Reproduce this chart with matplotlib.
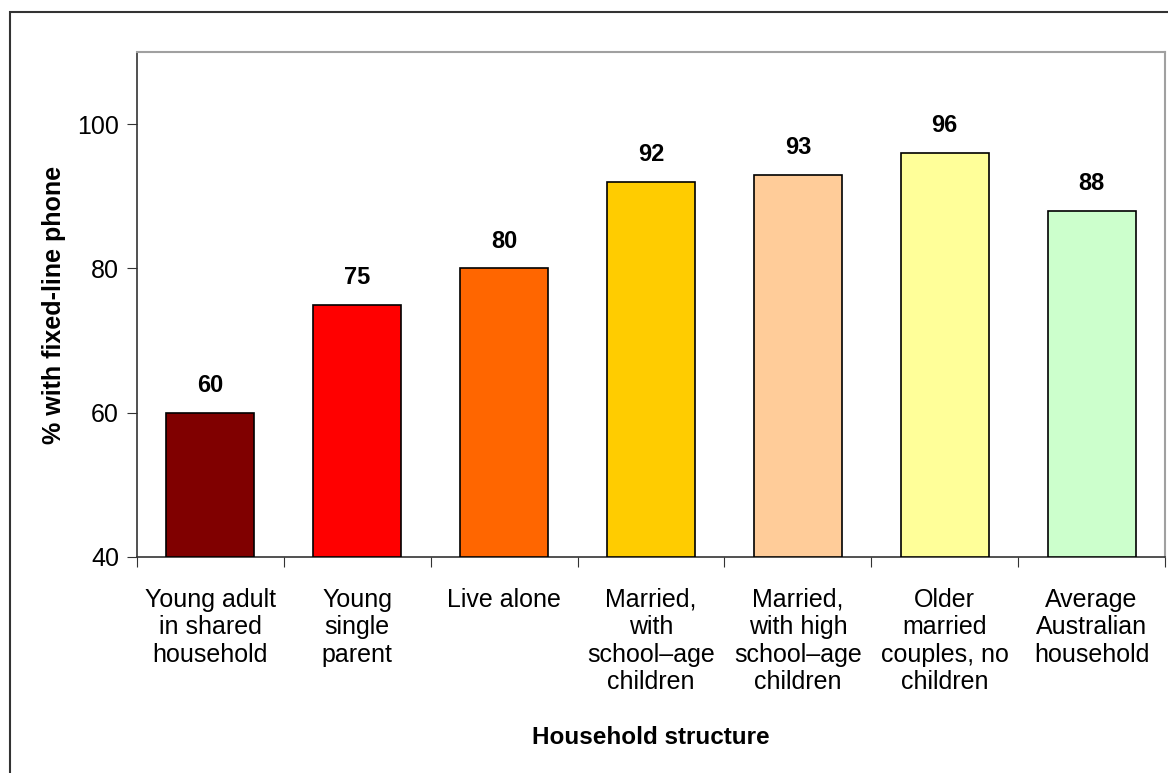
import matplotlib.pyplot as plt
from matplotlib.patches import Rectangle

plt.rcParams['font.family'] = ['Liberation Sans', 'DejaVu Sans']

# household types and share with a fixed-line phone (%)
categories = ['Young adult\nin shared\nhousehold', 'Young\nsingle\nparent', 'Live alone',
              'Married,\nwith\nschool\u2013age\nchildren', 'Married,\nwith high\nschool\u2013age\nchildren',
              'Older\nmarried\ncouples, no\nchildren', 'Average\nAustralian\nhousehold']
values = [60, 75, 80, 92, 93, 96, 88]
colors = ['#800000', '#FF0000', '#FF6600', '#FFCC00', '#FFCC99', '#FFFF99', '#CCFFCC']
yticks = [40, 60, 80, 100]

fig = plt.figure(figsize=(11.68, 7.73), dpi=100)
ax = fig.add_axes([137/1168, 1-557/773, (1165-137)/1168, (557-52)/773])

x = range(len(values))
ax.bar(x, [v - 40 for v in values], bottom=40, width=0.6, color=colors,
       edgecolor='black', linewidth=1.2, zorder=3)
for i, v in zip(x, values):
    ax.text(i, v + 2.2, f'{v:.0f}', ha='center', va='bottom', fontsize=17, fontweight='bold')

ax.set_xlim(-0.5, len(values) - 0.5)
ax.set_ylim(40, 110)
ax.set_yticks(yticks)
ax.set_yticklabels([str(t) for t in yticks], fontsize=18)
ax.set_xticks([i - 0.5 for i in range(len(values) + 1)])
ax.set_xticklabels([])
ax.set_xticks(list(x), minor=True)
ax.set_xticklabels(categories, minor=True, fontsize=18, linespacing=1.19, va='top')
ax.tick_params(axis='x', which='minor', length=0, pad=22)
ax.tick_params(axis='x', which='major', length=7, direction='out', color='#333333')
ax.tick_params(axis='y', length=7, direction='out', color='#333333', pad=6)

for side in ['left', 'bottom']:
    ax.spines[side].set_color('#333333')
    ax.spines[side].set_linewidth(1.2)
for side in ['top', 'right']:
    ax.spines[side].set_color('#A0A0A0')
    ax.spines[side].set_linewidth(1.5)

ax.set_ylabel('% with fixed-line phone', fontsize=18, fontweight='bold', labelpad=8)
fig.text(651/1168, 1-738/773, 'Household structure', ha='center', va='center',
         fontsize=17.5, fontweight='bold')

# outer chart frame
fig.patches.append(Rectangle((10/1168, -0.1), 1.2, (773-12)/773 + 0.1,
                             transform=fig.transFigure, fill=False,
                             edgecolor='#333333', linewidth=1.5))

fig.savefig('out.png', dpi=100)
